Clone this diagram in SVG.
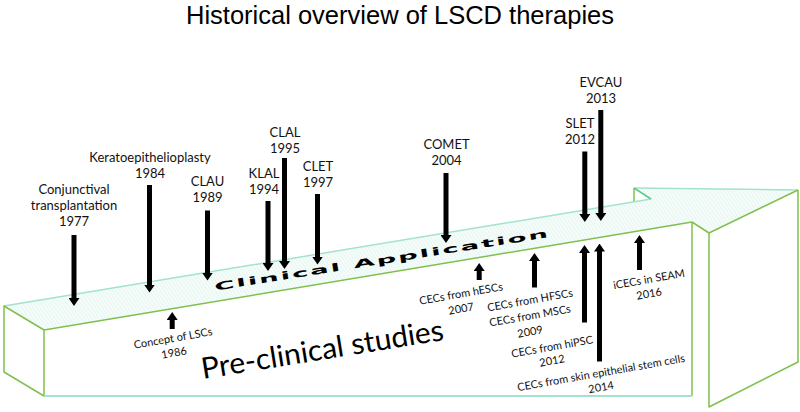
<svg xmlns="http://www.w3.org/2000/svg" width="800" height="412" viewBox="0 0 800 412">
<style>
.g{fill:none;stroke:#7fc04e;stroke-width:1.5;stroke-linejoin:round}
.m{fill:none;stroke:#a3e3cb;stroke-width:1.5}
.lb{font-family:Lato,"Open Sans",sans-serif;font-size:13px;fill:#111;text-anchor:middle}
.pl{font-family:Lato,"Open Sans",sans-serif;font-size:11px;fill:#111;text-anchor:middle}
.ar{stroke:#000;stroke-width:5;fill:none;marker-end:url(#ah)}
</style>
<defs>
<marker id="ah" markerUnits="userSpaceOnUse" markerWidth="8" markerHeight="11" viewBox="0 0 8 11" refX="2" refY="5.5" orient="auto"><path d="M0,0L8,5.5L0,11z" fill="#000"/></marker>
<pattern id="hatch" width="3" height="3" patternUnits="userSpaceOnUse" patternTransform="rotate(-35)"><rect width="3" height="3" fill="#f6fcfa"/><line x1="0" y1="0" x2="0" y2="3" stroke="#d9f2ea" stroke-width="1.1"/></pattern>
</defs>
<rect width="800" height="412" fill="#fff"/>
<g id="title"><text x="400" y="24" style="font-family:'Liberation Sans',Arial,sans-serif;font-size:25.5px;fill:#000;text-anchor:middle">Historical overview of LSCD therapies</text></g>
<g id="timeline-arrow">
<polygon points="4,306 651,199 634,188 798,190 709,233 692,222 44,330" fill="url(#hatch)"/>
<polygon points="4,306 44,330 44,396 4,372" fill="#fff"/>
<polygon points="44,330 692,222 692,396 44,396" fill="#fff"/>
<polygon points="709,233 798,190 798,362 709,407" fill="#fff"/>
<polygon points="692,222 709,233 709,407 692,396" fill="#fff"/>
<line class="m" x1="4" y1="306" x2="651" y2="199"/>
<line class="m" x1="634" y1="188" x2="798" y2="190"/>
<line x1="651" y1="199" x2="634" y2="188" stroke="#5cc98f" stroke-width="1.5"/>
<line class="g" x1="634" y1="188" x2="634" y2="201"/>
<polygon class="g" points="4,306 44,330 44,396 4,372"/>
<line class="g" x1="44" y1="330" x2="692" y2="222"/>
<line class="g" x1="692" y1="222" x2="692" y2="396"/>
<line class="m" x1="44" y1="396" x2="692" y2="396" style="stroke-width:2.2"/>
<polyline class="g" points="692,222 709,233 798,190"/>
<polyline class="g" points="709,233 709,407 798,362 798,190"/>
<text transform="translate(381,260) rotate(-9.1) scale(1.25,0.5)" x="0" y="8" textLength="270" lengthAdjust="spacing" style="font-family:'DejaVu Sans',sans-serif;font-weight:bold;font-size:22px;fill:#000;text-anchor:middle">Clinical Application</text>
<text transform="translate(203,379) rotate(-9.2)" x="0" y="0" textLength="245" lengthAdjust="spacingAndGlyphs" style="font-family:Lato,'Open Sans',sans-serif;font-size:29.5px;fill:#000">Pre-clinical studies</text>
</g>
<g id="n1977"><text class="lb" x="74" y="193.5">Conjunctival<tspan x="74" dy="16">transplantation</tspan><tspan x="74" dy="16">1977</tspan></text></g>
<g id="n1984"><text class="lb" x="150" y="161.5">Keratoepithelioplasty<tspan x="150" dy="16">1984</tspan></text></g>
<g id="n1989"><text class="lb" x="207.5" y="185.5">CLAU<tspan x="207.5" dy="16">1989</tspan></text></g>
<g id="n1994"><text class="lb" x="264" y="177.5">KLAL<tspan x="264" dy="16">1994</tspan></text></g>
<g id="n1995"><text class="lb" x="285" y="136.5">CLAL<tspan x="285" dy="16">1995</tspan></text></g>
<g id="n1997"><text class="lb" x="318" y="170.5">CLET<tspan x="318" dy="16">1997</tspan></text></g>
<g id="n2004"><text class="lb" x="446.5" y="148.5">COMET<tspan x="446.5" dy="16">2004</tspan></text></g>
<g id="n2012slet"><text class="lb" x="580" y="127.5">SLET<tspan x="580" dy="16">2012</tspan></text></g>
<g id="n2013"><text class="lb" x="601" y="87">EVCAU<tspan x="601" dy="16">2013</tspan></text></g>
<g id="n1986">
<text class="pl" transform="translate(173,338) rotate(-10)" y="4">Concept of LSCs</text>
<text class="pl" transform="translate(174,352.5) rotate(-10)" y="4">1986</text></g>
<g id="n2007">
<text class="pl" transform="translate(461,293.5) rotate(-10)" y="4">CECs from hESCs</text>
<text class="pl" transform="translate(461,308.5) rotate(-10)" y="4">2007</text></g>
<g id="n2009">
<text class="pl" transform="translate(530,300) rotate(-10)" y="4">CECs from HFSCs</text>
<text class="pl" transform="translate(530,315.5) rotate(-10)" y="4">CECs from MSCs</text>
<text class="pl" transform="translate(530,331.5) rotate(-10)" y="4">2009</text></g>
<g id="n2012ipsc">
<text class="pl" transform="translate(552,346.5) rotate(-10)" y="4">CECs from hiPSC</text>
<text class="pl" transform="translate(552,360.5) rotate(-10)" y="4">2012</text></g>
<g id="n2014">
<text class="pl" transform="translate(601,372.5) rotate(-10)" y="4">CECs from skin epithelial stem cells</text>
<text class="pl" transform="translate(601,387) rotate(-10)" y="4">2014</text></g>
<g id="n2016">
<text class="pl" transform="translate(649,279) rotate(-10)" y="4">iCECs in SEAM</text>
<text class="pl" transform="translate(649,293.5) rotate(-10)" y="4">2016</text></g>
<g id="connectors">
<line class="ar" x1="74" y1="235" x2="74" y2="300"/>
<line class="ar" x1="149.5" y1="185" x2="149.5" y2="286.5"/>
<line class="ar" x1="207.5" y1="210.5" x2="207.5" y2="274.5"/>
<line class="ar" x1="268" y1="201" x2="268" y2="265"/>
<line class="ar" x1="284.5" y1="158" x2="284.5" y2="263"/>
<line class="ar" x1="317.5" y1="194" x2="317.5" y2="258.5"/>
<line class="ar" x1="446" y1="173" x2="446" y2="237"/>
<line class="ar" x1="584.8" y1="151.5" x2="584.8" y2="216"/>
<line class="ar" x1="600.8" y1="110" x2="600.8" y2="215"/>
<line class="ar" x1="172.2" y1="329" x2="172.2" y2="318"/>
<line class="ar" x1="479.2" y1="280" x2="479.2" y2="269"/>
<line class="ar" x1="534.5" y1="287.5" x2="534.5" y2="259"/>
<line class="ar" x1="584.5" y1="322.5" x2="584.5" y2="251"/>
<line class="ar" x1="599.5" y1="361.5" x2="599.5" y2="249.5"/>
<line class="ar" x1="639.5" y1="270" x2="639.5" y2="241"/>
</g>
</svg>
